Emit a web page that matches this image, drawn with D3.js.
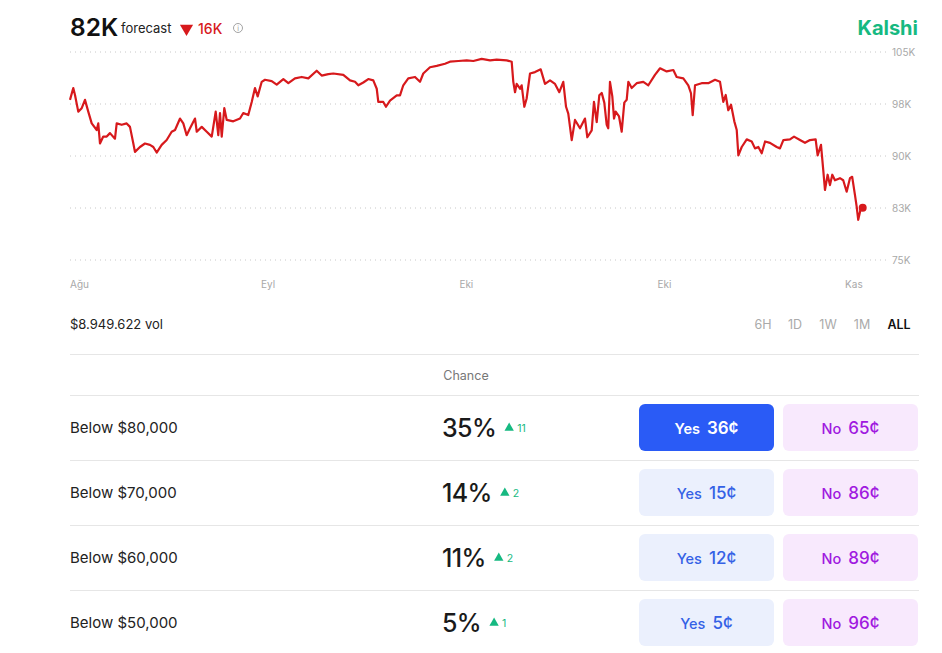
<!DOCTYPE html>
<html>
<head>
<meta charset="utf-8">
<script src="https://cdn.jsdelivr.net/npm/d3@7/dist/d3.min.js"></script>
<style>
  html, body { margin: 0; padding: 0; background: #fff; }
  svg { display: block; font-family: Inter, "Noto Sans", sans-serif; }
</style>
</head>
<body>
<svg id="chart" width="942" height="653"></svg>
<script>
// ---------- DATA ----------
const startDate = new Date(2025, 7, 20);
const endDate = new Date(2025, 10, 20);
// days since start
const days = [0.0,0.38,0.58,0.96,1.36,1.74,2.12,2.52,3.10,3.28,3.48,3.86,4.26,4.64,5.22,5.42,6.00,6.58,6.96,7.35,7.54,8.12,8.70,9.28,9.67,10.06,10.64,11.22,11.80,12.19,12.77,13.15,13.54,13.93,14.51,14.71,15.29,15.87,16.45,16.91,17.21,17.41,17.61,17.91,18.19,18.95,19.73,20.11,20.69,21.09,21.47,21.78,22.25,22.63,23.41,23.99,24.76,25.34,26.11,26.89,27.66,28.63,29.21,29.98,
  30.56,31.72,32.50,33.08,33.46,34.04,34.62,35.20,35.60,35.78,36.36,36.67,37.14,37.92,38.30,38.68,39.26,40.04,40.62,41.00,41.78,42.56,43.52,44.10,45.07,46.04,46.81,47.78,48.75,49.52,50.68,51.26,51.45,51.65,51.84,52.23,52.42,52.73,53.00,53.39,53.97,54.63,55.13,55.71,56.29,56.79,57.25,57.57,57.83,58.23,58.61,59.19,59.77,60.04,60.55,60.81,61.13,61.43,
  61.71,62.01,62.29,62.47,62.67,62.94,63.14,63.33,63.72,64.03,64.33,64.61,64.80,65.19,65.77,66.54,67.12,67.89,68.48,69.25,70.02,70.41,71.18,71.76,72.07,72.27,72.54,73.31,74.08,74.86,75.44,75.82,76.10,76.40,76.72,77.10,77.38,77.57,77.96,78.54,79.12,79.50,79.89,80.28,80.67,81.24,82.02,82.40,82.79,83.56,84.03,84.72,85.30,85.88,86.54,86.77,87.16,87.42,87.62,87.93,88.20,88.47,88.78,89.36,89.74,90.14,90.52,90.78,91.10,91.30,91.48,91.79,92.0];
// forecast value, thousands of dollars
const forecast = [98.1,99.8,98.8,96.4,96.9,98.1,96.4,94.7,93.75,94.7,91.8,92.8,92.8,93.3,92.5,94.7,94.5,94.7,94.2,91.8,90.6,91.3,91.8,91.6,91.3,90.5,91.6,92.3,93.5,93.75,95.4,94.7,93.0,94.0,95.4,93.5,94.2,93.5,92.8,96.4,93.0,96.2,92.8,96.9,95.2,95.0,95.4,96.2,95.9,97.8,99.8,98.6,100.7,101.0,100.8,100.3,101.1,100.5,101.2,101.4,101.2,102.3,101.6,101.8,
  101.9,101.7,100.9,100.7,100.2,100.6,101.1,100.9,99.7,97.8,97.8,97.1,98.0,98.75,98.75,100.2,101.2,101.4,100.7,101.9,102.8,103.0,103.3,103.6,103.7,103.8,103.7,104.0,103.8,103.9,103.8,103.6,100.7,99.2,100.4,99.7,100.2,97.1,98.3,101.9,102.1,102.5,100.4,100.9,100.4,99.2,100.7,97.1,96.1,92.3,95.2,94.0,95.4,92.7,93.7,97.8,94.9,98.75,
  99.1,97.7,94.5,94.0,100.7,98.6,95.4,96.4,95.7,93.5,97.7,98.1,100.7,99.8,100.5,100.7,100.2,101.7,102.65,102.2,102.4,101.4,101.2,100.2,99.05,95.9,100.2,100.5,100.5,101.0,100.7,97.8,98.8,96.6,97.4,95.0,93.75,90.1,91.3,92.4,92.1,91.1,91.3,90.4,92.1,91.9,91.3,91.1,92.3,92.4,92.8,92.3,91.9,92.3,92.4,90.1,91.6,88.0,85.1,87.3,85.8,87.3,86.5,86.8,86.5,84.85,86.8,87.0,84.4,82.7,80.8,82.5,82.55];

const yTickValues = [75, 82.5, 90, 97.5, 105];
const yTickLabels = ["75K", "83K", "90K", "98K", "105K"];
const xTickLabels = ["Ağu", "Eyl", "Eki", "Eki", "Kas"];
const ranges = ["6H", "1D", "1W", "1M", "ALL"];

const outcomes = ["Below $80,000", "Below $70,000", "Below $60,000", "Below $50,000"];
const chances = [35, 14, 11, 5];
const changes = [11, 2, 2, 1];
const yesPrices = [36, 15, 12, 5];
const noPrices = [65, 86, 89, 96];

const headline = "82K";
const delta = "16K";
const volume = "$8.949.622 vol";

// ---------- CHART ----------
const svg = d3.select("#chart");
const RED = "#d7191c";
const GREEN = "#16b981";

const series = days.map((d, i) => ({ date: new Date(startDate.getTime() + d * 864e5), v: forecast[i] }));

const x = d3.scaleTime().domain([startDate, endDate]).range([70, 862.7]);
const y = d3.scaleLinear().domain([75, 105]).range([260, 52]);

// header
const hdr = svg.append("g");
hdr.append("text").attr("x", 70).attr("y", 36).attr("font-size", 24.5).attr("font-weight", 600)
  .attr("fill", "#111").text(headline);
hdr.append("text").attr("x", 121).attr("y", 33).attr("font-size", 13).attr("fill", "#222").text("forecast");
hdr.append("path").attr("d", d3.symbol(d3.symbolTriangle, 75)()).attr("fill", RED)
  .attr("transform", "translate(186.5,28.5) rotate(180)");
hdr.append("text").attr("x", 198).attr("y", 33.5).attr("font-size", 14).attr("font-weight", 500)
  .attr("fill", RED).text(delta);
hdr.append("circle").attr("cx", 238).attr("cy", 28).attr("r", 4.5).attr("fill", "none").attr("stroke", "#999").attr("stroke-width", 0.9);
hdr.append("text").attr("x", 238).attr("y", 30.8).attr("font-size", 7).attr("text-anchor", "middle").attr("fill", "#999").text("i");
hdr.append("text").attr("x", 918).attr("y", 35).attr("font-size", 20).attr("font-weight", 700)
  .attr("text-anchor", "end").attr("fill", GREEN).text("Kalshi");

// gridlines + y labels
const grid = svg.append("g");
yTickValues.forEach((v, i) => {
  grid.append("line").attr("x1", 70).attr("x2", 888).attr("y1", y(v)).attr("y2", y(v))
    .attr("stroke", "#c8c8c8").attr("stroke-width", 1).attr("stroke-dasharray", "1,4");
  grid.append("text").attr("x", 892).attr("y", y(v) + 3.5).attr("font-size", 10)
    .attr("fill", "#a8a8a8").text(yTickLabels[i]);
});

// x labels at quarter points
const xTicks = d3.range(5).map(i => new Date(startDate.getTime() + i / 4 * (endDate - startDate)));
xTicks.forEach((t, i) => {
  svg.append("text").attr("x", x(t)).attr("y", 288).attr("font-size", 10).attr("fill", "#a8a8a8")
    .attr("text-anchor", i === 0 ? "start" : (i === 4 ? "end" : "middle")).text(xTickLabels[i]);
});

// line
const line = d3.line().x(d => x(d.date)).y(d => y(d.v));
svg.append("path").datum(series).attr("d", line).attr("fill", "none").attr("stroke", RED)
  .attr("stroke-width", 2.2).attr("stroke-linejoin", "round");
const last = series[series.length - 1];
svg.append("circle").attr("cx", x(last.date)).attr("cy", y(last.v)).attr("r", 4).attr("fill", RED);

// volume + range buttons
svg.append("text").attr("x", 70).attr("y", 329).attr("font-size", 13).attr("fill", "#222").text(volume);
const rangeX = [763, 795, 828, 862, 899];
ranges.forEach((r, i) => {
  svg.append("text").attr("x", rangeX[i]).attr("y", 329).attr("font-size", 12.5)
    .attr("text-anchor", "middle").attr("font-weight", r === "ALL" ? 600 : 400)
    .attr("fill", r === "ALL" ? "#111" : "#aaa").text(r);
});

// table
svg.append("line").attr("x1", 70).attr("x2", 919).attr("y1", 354.5).attr("y2", 354.5).attr("stroke", "#e6e6e6");
svg.append("text").attr("x", 466).attr("y", 380).attr("font-size", 12.5).attr("text-anchor", "middle")
  .attr("fill", "#777").text("Chance");

const rowTop = 395;
const rowH = 65;
outcomes.forEach((o, i) => {
  const top = rowTop + i * rowH;
  const cy = top + 33;
  svg.append("line").attr("x1", 70).attr("x2", 919).attr("y1", top + 0.5).attr("y2", top + 0.5).attr("stroke", "#e6e6e6");
  svg.append("text").attr("x", 70).attr("y", cy + 5).attr("font-size", 15).attr("fill", "#222").text(o);
  const pct = svg.append("text").attr("x", 442).attr("y", cy + 9).attr("font-size", 25).attr("font-weight", 500)
    .attr("letter-spacing", -0.6).attr("fill", "#1a1a1a").text(chances[i] + "%");
  const w = pct.node().getComputedTextLength();
  const tx = 442 + w + 13;
  svg.append("path").attr("d", d3.symbol(d3.symbolTriangle, 38)()).attr("fill", GREEN)
    .attr("transform", `translate(${tx},${cy})`);
  svg.append("text").attr("x", tx + 8).attr("y", cy + 3.5).attr("font-size", 10.5).attr("fill", GREEN).text(changes[i]);

  // Yes button
  const first = i === 0;
  svg.append("rect").attr("x", 639).attr("y", top + 9).attr("width", 135).attr("height", 47).attr("rx", 6)
    .attr("fill", first ? "#2a5bf6" : "#ebf0fd");
  const yt = svg.append("text").attr("x", 706.5).attr("y", cy + 6).attr("text-anchor", "middle")
    .attr("fill", first ? "#fff" : "#3461e6").attr("font-weight", first ? 600 : 500);
  yt.append("tspan").attr("font-size", 14.5).text("Yes");
  yt.append("tspan").attr("font-size", 17).attr("dx", 7).text(yesPrices[i] + "¢");

  // No button
  svg.append("rect").attr("x", 783).attr("y", top + 9).attr("width", 135).attr("height", 47).attr("rx", 6)
    .attr("fill", "#f8e9fd");
  const nt = svg.append("text").attr("x", 850.5).attr("y", cy + 6).attr("text-anchor", "middle")
    .attr("fill", "#a019e0").attr("font-weight", 500);
  nt.append("tspan").attr("font-size", 14.5).text("No");
  nt.append("tspan").attr("font-size", 17).attr("dx", 7).text(noPrices[i] + "¢");
});
</script>
</body>
</html>
